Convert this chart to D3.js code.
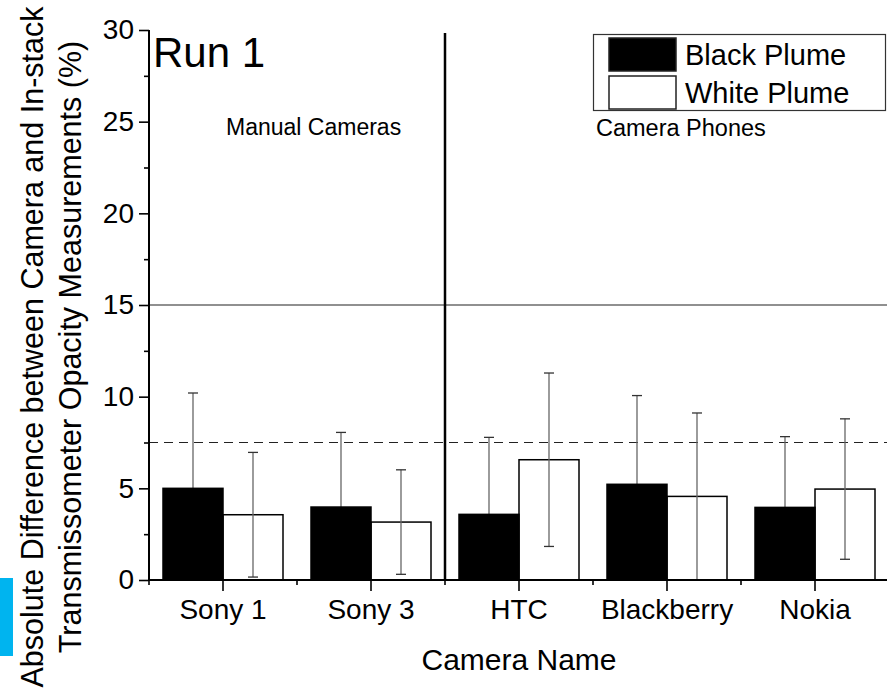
<!DOCTYPE html>
<html>
<head>
<meta charset="utf-8">
<script src="https://cdn.jsdelivr.net/npm/d3@7"></script>
<style>
  html, body { margin: 0; padding: 0; background: #fff; }
  svg { display: block; overflow: hidden; }
  text { font-family: "Liberation Sans", Arial, Helvetica, sans-serif; fill: #000; }
</style>
</head>
<body>
<svg id="chart" width="887" height="695"></svg>
<script>
// Camera names along the x axis
const cameras = ["Sony 1", "Sony 3", "HTC", "Blackberry", "Nokia"];
// Plume series shown in the legend
const plumes = ["Black Plume", "White Plume"];
// Mean absolute difference (%) per camera
const blackPlume = [5.0, 3.98, 3.58, 5.22, 3.96];
const whitePlume = [3.56, 3.16, 6.56, 4.56, 4.96];
// Standard deviation (%) per camera
const blackErr = [5.2, 4.07, 4.2, 4.84, 3.86];
const whiteErr = [3.4, 2.85, 4.73, 4.55, 3.83];
// Y axis ticks
const yTicks = [0, 5, 10, 15, 20, 25, 30];
const yMinorTicks = [2.5, 7.5, 12.5, 17.5, 22.5, 27.5];
// Reference lines (%)
const solidRef = 15;
const dashedRef = 7.5;

const svg = d3.select("#chart");
const plotLeft = 149, plotRight = 889, plotTop = 30, plotBottom = 580;

const x = d3.scaleBand().domain(cameras).range([plotLeft, plotRight]).paddingInner(0).paddingOuter(0);
const xs = d3.scaleBand().domain(plumes).range([0, x.bandwidth()]).paddingInner(0).paddingOuter(0.2333);
const y = d3.scaleLinear().domain([0, 30]).range([plotBottom, plotTop]);

const rows = cameras.map((c, i) => ({
  camera: c,
  vals: [
    { plume: plumes[0], v: blackPlume[i], e: blackErr[i] },
    { plume: plumes[1], v: whitePlume[i], e: whiteErr[i] }
  ]
}));

// cyan marker at the left margin
svg.append("rect").attr("x", 0).attr("y", 578).attr("width", 13).attr("height", 78).attr("fill", "#00b4ef");

// reference lines
svg.append("line").attr("x1", plotLeft).attr("x2", plotRight).attr("y1", y(solidRef)).attr("y2", y(solidRef))
  .attr("stroke", "#222").attr("stroke-width", 1.2);
svg.append("line").attr("x1", plotLeft).attr("x2", plotRight).attr("y1", y(dashedRef)).attr("y2", y(dashedRef))
  .attr("stroke", "#222").attr("stroke-width", 1.2).attr("stroke-dasharray", "9,6");

const groups = svg.append("g").selectAll("g").data(rows).join("g")
  .attr("transform", d => `translate(${x(d.camera)},0)`);

// white bars first
groups.selectAll("rect.w").data(d => d.vals.filter(v => v.plume === plumes[1])).join("rect")
  .attr("class", "w")
  .attr("x", d => xs(d.plume)).attr("width", xs.bandwidth())
  .attr("y", d => y(d.v)).attr("height", d => y(0) - y(d.v))
  .attr("fill", "#fff").attr("stroke", "#000").attr("stroke-width", 1.5);

// error bars (lower whisker stops at zero)
const cap = 5;
groups.selectAll("g.err").data(d => d.vals).join("g").attr("class", "err").each(function(d) {
  const g = d3.select(this);
  const cx = xs(d.plume) + xs.bandwidth() / 2;
  const lo = Math.max(0, d.v - d.e);
  g.append("line").attr("x1", cx).attr("x2", cx).attr("y1", y(d.v + d.e)).attr("y2", y(lo))
    .attr("stroke", "#666").attr("stroke-width", 1.3);
  g.append("line").attr("x1", cx - cap).attr("x2", cx + cap).attr("y1", y(d.v + d.e)).attr("y2", y(d.v + d.e))
    .attr("stroke", "#333").attr("stroke-width", 1.3);
  if (d.v - d.e > 0) {
    g.append("line").attr("x1", cx - cap).attr("x2", cx + cap).attr("y1", y(d.v - d.e)).attr("y2", y(d.v - d.e))
      .attr("stroke", "#333").attr("stroke-width", 1.3);
  }
});

// black bars on top
groups.selectAll("rect.b").data(d => d.vals.filter(v => v.plume === plumes[0])).join("rect")
  .attr("class", "b")
  .attr("x", d => xs(d.plume)).attr("width", xs.bandwidth())
  .attr("y", d => y(d.v)).attr("height", d => y(0) - y(d.v))
  .attr("fill", "#000").attr("stroke", "#000").attr("stroke-width", 1.5);

// divider between manual cameras and camera phones
const divX = x("HTC");
svg.append("line").attr("x1", divX).attr("x2", divX).attr("y1", y(30) + 3).attr("y2", y(0))
  .attr("stroke", "#000").attr("stroke-width", 2.5);

// y axis
const yAxis = svg.append("g").attr("transform", `translate(${plotLeft},0)`)
  .call(d3.axisLeft(y).tickValues(yTicks).tickSize(10).tickPadding(5).tickFormat(d3.format("d")));
yAxis.select(".domain").remove();
yAxis.selectAll(".tick line").attr("stroke-width", 1.6);
yAxis.selectAll("text").style("font-size", "28px");
svg.append("g").attr("transform", `translate(${plotLeft},0)`)
  .call(d3.axisLeft(y).tickValues(yMinorTicks).tickSize(5).tickFormat(""))
  .call(g => g.select(".domain").remove())
  .selectAll(".tick line").attr("stroke-width", 1.6);
svg.append("line").attr("x1", plotLeft).attr("x2", plotLeft).attr("y1", plotTop).attr("y2", plotBottom + 1)
  .attr("stroke", "#000").attr("stroke-width", 2);

// x axis
const xAxis = svg.append("g").attr("transform", `translate(0,${plotBottom})`)
  .call(d3.axisBottom(x).tickSize(11).tickPadding(8));
xAxis.select(".domain").remove();
xAxis.selectAll(".tick line").attr("stroke-width", 1.6);
xAxis.selectAll("text").style("font-size", "28px");
const bounds = cameras.map(c => x(c));
svg.append("g").selectAll("line").data(bounds).join("line")
  .attr("x1", d => d).attr("x2", d => d).attr("y1", plotBottom).attr("y2", plotBottom + 5)
  .attr("stroke", "#000").attr("stroke-width", 1.6);
svg.append("line").attr("x1", plotLeft - 1).attr("x2", plotRight).attr("y1", plotBottom).attr("y2", plotBottom)
  .attr("stroke", "#000").attr("stroke-width", 2.2);

// axis titles
svg.append("text").attr("x", 519).attr("y", 670).attr("text-anchor", "middle")
  .style("font-size", "30px").text("Camera Name");
const yt = svg.append("text").attr("transform", "translate(0,347) rotate(-90)").attr("text-anchor", "middle")
  .style("font-size", "30.5px");
yt.append("tspan").attr("x", 0).attr("y", 43).text("Absolute Difference between Camera and In-stack");
yt.append("tspan").attr("x", 0).attr("y", 81).text("Transmissometer Opacity Measurements (%)");

// annotations
svg.append("text").attr("x", 153).attr("y", 67).style("font-size", "42px").text("Run 1");
svg.append("text").attr("x", 226).attr("y", 135).style("font-size", "23px").text("Manual Cameras");
svg.append("text").attr("x", 596).attr("y", 136).style("font-size", "23.5px").text("Camera Phones");

// legend
const lg = svg.append("g");
lg.append("rect").attr("x", 593.5).attr("y", 34.5).attr("width", 292).attr("height", 76)
  .attr("fill", "#fff").attr("stroke", "#333").attr("stroke-width", 1.2);
const items = lg.selectAll("g").data(plumes).join("g")
  .attr("transform", (d, i) => `translate(0,${i * 38})`);
items.append("rect").attr("x", 609).attr("y", 38).attr("width", 67).attr("height", 33)
  .attr("fill", (d, i) => i === 0 ? "#000" : "#fff").attr("stroke", "#222").attr("stroke-width", 1.5);
items.append("text").attr("x", 685).attr("y", 65).style("font-size", "29px").text(d => d);
</script>
</body>
</html>
